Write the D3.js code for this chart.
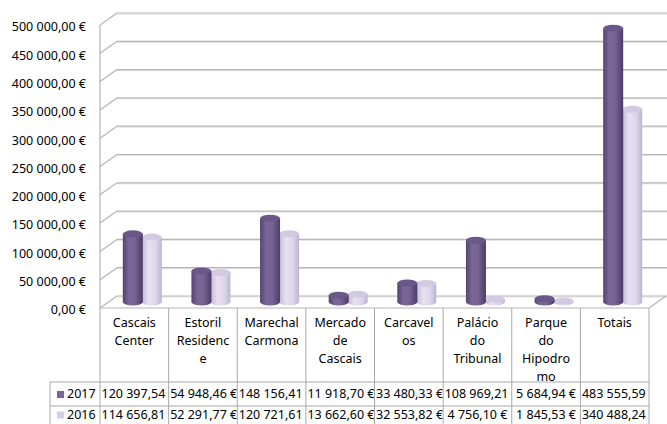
<!DOCTYPE html>
<html>
<head>
<meta charset="utf-8">
<script src="https://cdn.jsdelivr.net/npm/d3@7"></script>
<style>
html,body{margin:0;padding:0;background:#fff;}
svg text{font-family:"Noto Sans","Open Sans",sans-serif;font-size:12.5px;fill:#000;}
</style>
</head>
<body>
<svg id="chart" width="667" height="424"></svg>
<script>
const categories = ["Cascais Center","Estoril Residence","Marechal Carmona","Mercado de Cascais","Carcavelos","Palácio do Tribunal","Parque do Hipodromo","Totais"];
const headerLines = [["Cascais","Center"],["Estoril","Residenc","e"],["Marechal","Carmona"],["Mercado","de","Cascais"],["Carcavel","os"],["Palácio","do","Tribunal"],["Parque","do","Hipodro","mo"],["Totais"]];
const seriesNames = ["2017","2016"];
const values2017 = [120397.54, 54948.46, 148156.41, 11918.70, 33480.33, 108969.21, 5684.94, 483555.59];
const values2016 = [114656.81, 52291.77, 120721.61, 13662.60, 32553.82, 4756.10, 1845.53, 340488.24];
const yTicks = [0,50000,100000,150000,200000,250000,300000,350000,400000,450000,500000];

const svg = d3.select("#chart");
const x0 = 100, x1 = 649, floorY = 308, topY = 25, dX = 17, dY = -12;
const x = d3.scaleBand().domain(categories).range([x0, x1]);
const y = d3.scaleLinear().domain([0, 500000]).range([floorY, topY]);
const loc = d3.formatLocale({decimal: ",", thousands: "\u00a0", grouping: [3], currency: ["", "\u00a0€"]});
const fmt = loc.format("$,.2f");

const defs = svg.append("defs");
function grad(id, stops) {
  const g = defs.append("linearGradient").attr("id", id).attr("x1", "0%").attr("x2", "100%").attr("y1", "0%").attr("y2", "0%");
  stops.forEach(s => g.append("stop").attr("offset", s[0]).attr("stop-color", s[1]));
}
grad("gDark", [["0%", "#54426f"], ["30%", "#7a6798"], ["60%", "#776494"], ["100%", "#4c3b66"]]);
grad("gLight", [["0%", "#c3b9d5"], ["35%", "#e6e1f0"], ["70%", "#ddd6ea"], ["100%", "#bdb3d0"]]);
const seriesFill = ["url(#gDark)", "url(#gLight)"];
const seriesTop = ["#6b588a", "#d2cae1"];
const seriesSwatch = ["#76649a", "#d6cfe4"];

// Gridlines on back wall + left wall diagonals
const grid = svg.append("g");
yTicks.forEach(t => {
  const fy = y(t);
  grid.append("line").attr("x1", x0 + dX).attr("x2", x1 + dX + 2).attr("y1", fy + dY + 1).attr("y2", fy + dY + 1).attr("stroke", "#e2e2e2").attr("stroke-width", 1);
  grid.append("line").attr("x1", x0 + dX).attr("x2", x1 + dX + 2).attr("y1", fy + dY).attr("y2", fy + dY).attr("stroke", "#b5b5b5").attr("stroke-width", 1.2);
  grid.append("line").attr("x1", x0).attr("x2", x0 + dX).attr("y1", fy).attr("y2", fy + dY).attr("stroke", "#b5b5b5").attr("stroke-width", 1.2);
});
grid.append("line").attr("x1", x0).attr("x2", x0).attr("y1", y(500000)).attr("y2", floorY).attr("stroke", "#b5b5b5").attr("stroke-width", 1.2);
grid.append("line").attr("x1", x1).attr("x2", x1 + dX).attr("y1", floorY).attr("y2", floorY + dY).attr("stroke", "#b5b5b5").attr("stroke-width", 1.2);

// Y labels
svg.append("g").selectAll("text").data(yTicks).join("text")
  .attr("x", 86).attr("y", d => y(d) + 3).attr("text-anchor", "end").attr("dominant-baseline", "middle")
  .text(d => fmt(d));

// Bars (cylinders)
const bw = 20, ry = 3.5;
const barsG = svg.append("g");
categories.forEach((c, i) => {
  const cx = x(c) + x.bandwidth() / 2 + dX / 2;
  [1, 0].forEach(s => {
    const v = s === 0 ? values2017[i] : values2016[i];
    const bx = s === 0 ? cx - bw : cx - 1;
    const top = y(v) + dY / 2, bottom = floorY + dY / 2;
    barsG.append("ellipse").attr("cx", bx + bw / 2).attr("cy", bottom).attr("rx", bw / 2).attr("ry", ry).attr("fill", seriesFill[s]);
    barsG.append("rect").attr("x", bx).attr("y", top).attr("width", bw).attr("height", Math.max(0, bottom - top)).attr("fill", seriesFill[s]);
    barsG.append("ellipse").attr("cx", bx + bw / 2).attr("cy", top).attr("rx", bw / 2).attr("ry", ry).attr("fill", seriesTop[s]);
  });
});

// Data table
const tbl = svg.append("g");
const hdrBottom = 382, rowH = 24, legX = 50;
const lineC = "#a8a8a8";
const bounds = categories.map(c => x(c)).concat([x1]);
bounds.forEach(b => tbl.append("line").attr("x1", b).attr("x2", b).attr("y1", floorY).attr("y2", 434).attr("stroke", lineC));
tbl.append("line").attr("x1", legX).attr("x2", legX).attr("y1", hdrBottom).attr("y2", 434).attr("stroke", lineC);
tbl.append("line").attr("x1", x0).attr("x2", x1).attr("y1", floorY).attr("y2", floorY).attr("stroke", "#b5b5b5").attr("stroke-width", 1.2);
[hdrBottom, hdrBottom + rowH].forEach(h => tbl.append("line").attr("x1", legX).attr("x2", x1).attr("y1", h).attr("y2", h).attr("stroke", lineC));

// header text
categories.forEach((c, i) => {
  const t = tbl.append("text").attr("text-anchor", "middle");
  headerLines[i].forEach((ln, k) => {
    t.append("tspan").attr("x", x(c) + x.bandwidth() / 2).attr("y", 327 + k * 18).text(ln);
  });
});

// rows
const rows = [values2017, values2016];
const rowCenters = [395, 415.5];
rows.forEach((vals, r) => {
  const cy = rowCenters[r];
  tbl.append("rect").attr("x", 57).attr("y", cy - 4).attr("width", 7).attr("height", 7).attr("fill", seriesSwatch[r]);
  tbl.append("text").attr("x", 67).attr("y", cy).attr("dominant-baseline", "middle").text(seriesNames[r]);
  categories.forEach((c, i) => {
    const cid = "clip" + r + "_" + i;
    defs.append("clipPath").attr("id", cid).append("rect").attr("x", x(c) + 0.5).attr("y", cy - 12).attr("width", x.bandwidth() - 1).attr("height", 24);
    const t = tbl.append("text").attr("clip-path", "url(#" + cid + ")").attr("y", cy).attr("dominant-baseline", "middle").text(fmt(vals[i]));
    const w = t.node().getComputedTextLength();
    if (w > x.bandwidth() - 3) {
      t.attr("x", x(c) + 1.5).attr("text-anchor", "start");
    } else {
      t.attr("x", x(c) + x.bandwidth() / 2).attr("text-anchor", "middle");
    }
  });
});
</script>
</body>
</html>
